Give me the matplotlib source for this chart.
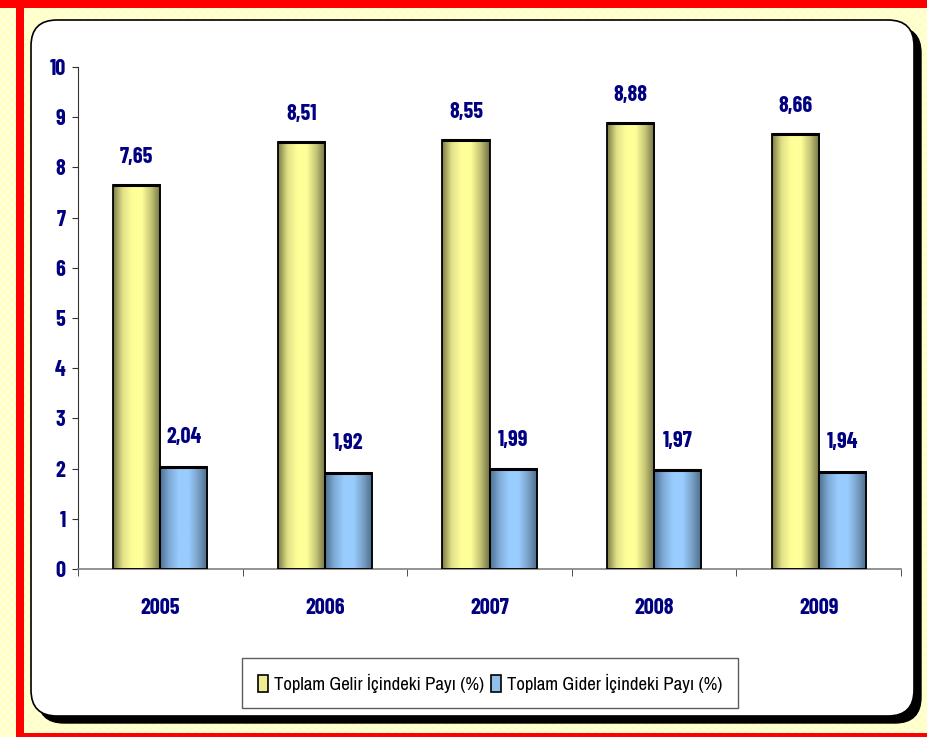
import numpy as np
import matplotlib.pyplot as plt
from matplotlib.patches import Rectangle, FancyBboxPatch, Patch
from matplotlib.colors import LinearSegmentedColormap

# dar yazı tipleri (Arial Narrow benzeri)
kalin_font = ['Liberation Sans Narrow', 'Barlow Condensed', 'DejaVu Sans']
ince_font = ['Liberation Sans Narrow', 'Archivo Narrow', 'DejaVu Sans']
plt.rcParams['font.family'] = kalin_font

# veriler
yillar = ['2005', '2006', '2007', '2008', '2009']
gelir_payi = [7.65, 8.51, 8.55, 8.88, 8.66]
gider_payi = [2.04, 1.92, 1.99, 1.97, 1.94]
seri_adlari = ['Toplam Gelir İçindeki Payı (%)', 'Toplam Gider İçindeki Payı (%)']

lacivert = '#000080'

fig = plt.figure(figsize=(9.27, 7.37), dpi=100)
fig.patch.set_facecolor('#FFFFBE')

# arka plan: piksel koordinatlarında çerçeve
bg = fig.add_axes([0, 0, 1, 1], zorder=0)
bg.set_xlim(0, 927)
bg.set_ylim(737, 0)
bg.axis('off')
bg.add_patch(Rectangle((0, 0), 927, 737, facecolor='none', edgecolor='#FFFFFF',
                       hatch='xxxx', linewidth=0, alpha=0.55))
bg.add_patch(Rectangle((0, 0), 927, 8, facecolor='#FF0000', edgecolor='none'))
bg.add_patch(Rectangle((16, 0), 8, 737, facecolor='#FF0000', edgecolor='none'))
bg.add_patch(Rectangle((16, 733), 911, 4, facecolor='#FF0000', edgecolor='none'))
# gölge + beyaz kutu
bg.add_patch(FancyBboxPatch((38, 27), 883, 696, boxstyle='round,pad=0,rounding_size=26',
                            facecolor='black', edgecolor='black', linewidth=1))
bg.add_patch(FancyBboxPatch((31, 20), 883, 696, boxstyle='round,pad=0,rounding_size=26',
                            facecolor='white', edgecolor='black', linewidth=1.2))

ax = fig.add_axes([78 / 927, 1 - 569 / 737, (901 - 78) / 927, (569 - 67) / 737], zorder=1)
ax.set_facecolor('none')

x = np.arange(len(yillar))
w = 0.286

sari_cmap = LinearSegmentedColormap.from_list('sari', ['#7a7a44', '#e0e088', '#ffff99', '#ffff99', '#c4c476', '#6e6e44'])
mavi_cmap = LinearSegmentedColormap.from_list('mavi', ['#4d7092', '#80acd8', '#99ccff', '#99ccff', '#78a0c6', '#486888'])
grad = np.linspace(0, 1, 256).reshape(1, -1)

b1 = ax.bar(x - w / 2, gelir_payi, w, color='#e8e88c', zorder=2)
b2 = ax.bar(x + w / 2, gider_payi, w, color='#8cbbe8', zorder=2)

for bars, cmap in [(b1, sari_cmap), (b2, mavi_cmap)]:
    for bar in bars:
        x0, y0 = bar.get_x(), bar.get_y()
        bw, bh = bar.get_width(), bar.get_height()
        im = ax.imshow(grad, extent=[x0, x0 + bw, y0, y0 + bh], aspect='auto',
                       cmap=cmap, zorder=2.5, interpolation='bicubic')
        im.set_clip_path(bar)
        ax.plot([x0, x0 + bw], [y0 + bh, y0 + bh], color='black', lw=2.2, zorder=3.5,
                solid_capstyle='butt')

ax.bar(x - w / 2, gelir_payi, w, fill=False, edgecolor='black', linewidth=1.3, zorder=3)
ax.bar(x + w / 2, gider_payi, w, fill=False, edgecolor='black', linewidth=1.3, zorder=3)

for xi, v in zip(x - w / 2, gelir_payi):
    ax.annotate(f'{v:.2f}'.replace('.', ','), (xi, v), xytext=(0, 20), textcoords='offset points',
                ha='center', va='center', fontsize=16, fontweight='bold', color=lacivert)
for xi, v in zip(x + w / 2, gider_payi):
    ax.annotate(f'{v:.2f}'.replace('.', ','), (xi, v), xytext=(0, 21), textcoords='offset points',
                ha='center', va='center', fontsize=16, fontweight='bold', color=lacivert)

ax.set_xlim(-0.5, len(yillar) - 0.5)
ax.set_ylim(0, 10)
ax.set_yticks(range(0, 11))
ax.set_xticks(x)
ax.set_xticklabels(yillar)
ax.set_xticks(np.arange(-0.5, len(yillar)), minor=True)
ax.tick_params(axis='x', which='major', length=0, pad=21, labelsize=16, labelcolor=lacivert)
ax.tick_params(axis='x', which='minor', length=5, direction='out', color='#333333')
ax.tick_params(axis='y', length=4, pad=5, labelsize=16, labelcolor=lacivert, color='#333333')
for lab in ax.get_xticklabels() + ax.get_yticklabels():
    lab.set_fontweight('bold')

for s in ['top', 'right']:
    ax.spines[s].set_visible(False)
ax.spines['left'].set_color('#333333')
ax.spines['bottom'].set_color('#808080')
ax.spines['bottom'].set_linewidth(1.2)

handles = [Patch(facecolor='#eeee90', edgecolor='black', linewidth=1.2),
           Patch(facecolor='#90c0ee', edgecolor='black', linewidth=1.2)]
leg = fig.legend(handles, seri_adlari, loc='center', bbox_to_anchor=(490 / 927, 1 - 683 / 737),
                 ncol=2, frameon=True, fancybox=False, handlelength=0.55,
                 handleheight=1.0, handletextpad=0.3, columnspacing=0.35, borderpad=0.85,
                 borderaxespad=0, prop={'family': ince_font, 'size': 13.5})
leg.get_frame().set_edgecolor('#333333')
leg.get_frame().set_linewidth(1)
leg.set_zorder(5)

fig.savefig('out.png', dpi=100, facecolor=fig.get_facecolor())
